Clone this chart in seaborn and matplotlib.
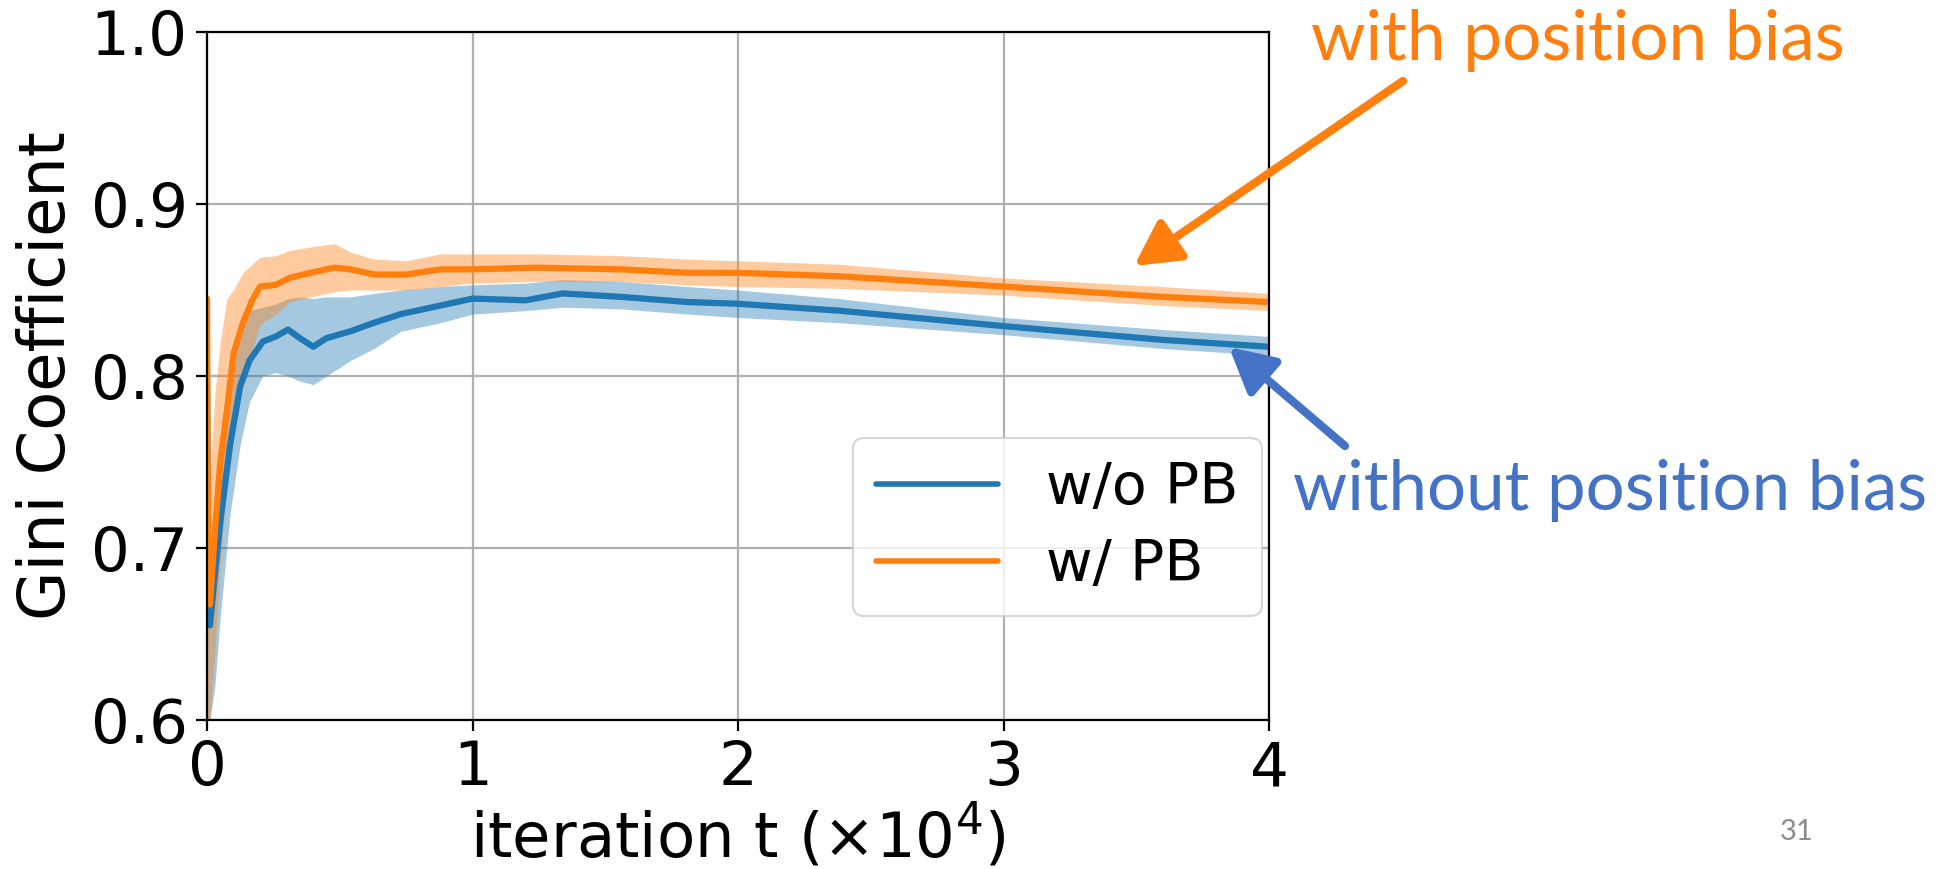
import matplotlib
matplotlib.use("Agg")
import matplotlib.pyplot as plt
import seaborn as sns

# ---------------- data ----------------
t_nopb = [0.0, 0.004, 0.011, 0.03, 0.05, 0.087, 0.125, 0.16, 0.21, 0.26, 0.305, 0.35,
          0.40, 0.45, 0.54, 0.63, 0.73, 0.88, 1.0, 1.2, 1.34, 1.56, 1.81, 2.0, 2.38,
          3.0, 3.6, 4.0]
mean_nopb = [0.80, 0.70, 0.655, 0.685, 0.715, 0.76, 0.794, 0.809, 0.820, 0.823, 0.827,
             0.822, 0.817, 0.822, 0.826, 0.831, 0.836, 0.841, 0.845, 0.844, 0.848,
             0.846, 0.843, 0.842, 0.838, 0.829, 0.821, 0.817]
lo_nopb = [0.60, 0.60, 0.60, 0.62, 0.66, 0.72, 0.76, 0.785, 0.80, 0.802, 0.800, 0.797,
           0.795, 0.800, 0.809, 0.816, 0.826, 0.831, 0.836, 0.838, 0.840, 0.839, 0.836,
           0.834, 0.831, 0.824, 0.816, 0.812]
hi_nopb = [0.83, 0.76, 0.70, 0.73, 0.76, 0.80, 0.83, 0.838, 0.840, 0.842, 0.845, 0.846,
           0.845, 0.846, 0.846, 0.848, 0.850, 0.852, 0.853, 0.854, 0.856, 0.855, 0.852,
           0.850, 0.845, 0.834, 0.827, 0.823]

t_pb = [0.0, 0.004, 0.011, 0.03, 0.05, 0.075, 0.1, 0.135, 0.17, 0.2, 0.26, 0.31, 0.39,
        0.48, 0.54, 0.63, 0.75, 0.88, 1.0, 1.24, 1.56, 1.81, 2.0, 2.38, 3.0, 3.6, 4.0]
mean_pb = [0.845, 0.70, 0.667, 0.71, 0.75, 0.78, 0.813, 0.831, 0.844, 0.852, 0.853,
           0.857, 0.860, 0.863, 0.862, 0.859, 0.859, 0.862, 0.862, 0.863, 0.862, 0.860,
           0.860, 0.858, 0.852, 0.846, 0.843]
lo_pb = [0.60, 0.60, 0.60, 0.64, 0.69, 0.74, 0.78, 0.80, 0.815, 0.83, 0.836, 0.843,
         0.846, 0.849, 0.850, 0.850, 0.850, 0.852, 0.854, 0.855, 0.855, 0.853, 0.852,
         0.851, 0.847, 0.841, 0.838]
hi_pb = [0.85, 0.78, 0.74, 0.79, 0.82, 0.845, 0.85, 0.86, 0.865, 0.869, 0.870, 0.873,
         0.875, 0.877, 0.872, 0.868, 0.867, 0.871, 0.871, 0.871, 0.870, 0.868, 0.867,
         0.865, 0.857, 0.852, 0.848]

series_labels = ["w/o PB", "w/ PB"]
y_ticks = [0.6, 0.7, 0.8, 0.9, 1.0]
x_ticks = [0, 1, 2, 3, 4]

BLUE = "#1f77b4"
ORANGE = "#ff7f0e"
NOTE_BLUE = "#4472c4"

# ---------------- figure ----------------
sns.set_style("ticks")
plt.rcParams["font.family"] = ["DejaVu Sans"]
plt.rcParams.update({"text.color": "black", "axes.labelcolor": "black",
                     "xtick.color": "black", "ytick.color": "black"})

W, H = 1959, 869
fig = plt.figure(figsize=(W / 100, H / 100), dpi=100)
ax = fig.add_axes([207 / W, 1 - 720 / H, (1269 - 207) / W, (720 - 32) / H])

ax.fill_between(t_nopb, lo_nopb, hi_nopb, color=BLUE, alpha=0.4, lw=0)
sns.lineplot(x=t_nopb, y=mean_nopb, ax=ax, color=BLUE, lw=4.5, label=series_labels[0])
ax.fill_between(t_pb, lo_pb, hi_pb, color=ORANGE, alpha=0.4, lw=0)
sns.lineplot(x=t_pb, y=mean_pb, ax=ax, color=ORANGE, lw=4.5, label=series_labels[1])

ax.set_xlim(0, 4)
ax.set_ylim(0.6, 1.0)
ax.set_xticks(x_ticks)
ax.set_xticklabels([str(v) for v in x_ticks])
ax.set_yticks(y_ticks)
ax.set_yticklabels([f"{v:.1f}" for v in y_ticks])
ax.grid(True, color="#b0b0b0", lw=1.6)
ax.set_axisbelow(True)
for s in ax.spines.values():
    s.set_color("black")
    s.set_linewidth(1.6)
ax.tick_params(labelsize=44, length=8, width=1.6, color="black", labelcolor="black", pad=6)

ax.set_ylabel("Gini Coefficient", fontsize=46, labelpad=9, color="black")
ax.set_xlabel(r"iteration t ($\times10^4$)", fontsize=45, labelpad=2, color="black")

leg = ax.legend(loc="lower right", bbox_to_anchor=(0.993, 0.151), borderaxespad=0,
                fontsize=41, handlelength=2.15, handletextpad=0.85, labelspacing=0.4,
                borderpad=0.4, framealpha=0.8, fancybox=True)
leg.get_frame().set_edgecolor("#cccccc")
leg.get_frame().set_linewidth(1.5)
for ln in leg.get_lines():
    ln.set_linewidth(4)
for txt in leg.get_texts():
    txt.set_color("black")

# ---------------- annotations ----------------
renderer = fig.canvas.get_renderer()


def fit_text(x_left, y_base, s, width_px, color, family):
    t = fig.text(x_left / W, 1 - y_base / H, s, fontsize=60, color=color,
                 family=family, ha="left", va="baseline")
    w = t.get_window_extent(renderer).width
    t.set_fontsize(60 * width_px / w)
    return t


fit_text(1311, 60, "with position bias", 535, ORANGE, ["Lato", "DejaVu Sans"])
fit_text(1293, 510, "without position bias", 635, NOTE_BLUE, ["Lato", "DejaVu Sans"])

arrow_style = "-|>,head_length=0.6,head_width=0.32"
ax.annotate("", xy=(1134, H - 266), xycoords="figure pixels",
            xytext=(1403, H - 81), textcoords="figure pixels",
            arrowprops=dict(arrowstyle=arrow_style, lw=6, color=ORANGE,
                            mutation_scale=45, shrinkA=0, shrinkB=0),
            annotation_clip=False)
ax.annotate("", xy=(1229, H - 347), xycoords="figure pixels",
            xytext=(1345, H - 446), textcoords="figure pixels",
            arrowprops=dict(arrowstyle=arrow_style, lw=6, color=NOTE_BLUE,
                            mutation_scale=45, shrinkA=0, shrinkB=0),
            annotation_clip=False)

fig.text(1797 / W, 1 - 832 / H, "31", color="#8c8c8c", fontsize=21,
         family=["Lato", "DejaVu Sans"], ha="center", va="center")

fig.savefig("out.png", dpi=100)
